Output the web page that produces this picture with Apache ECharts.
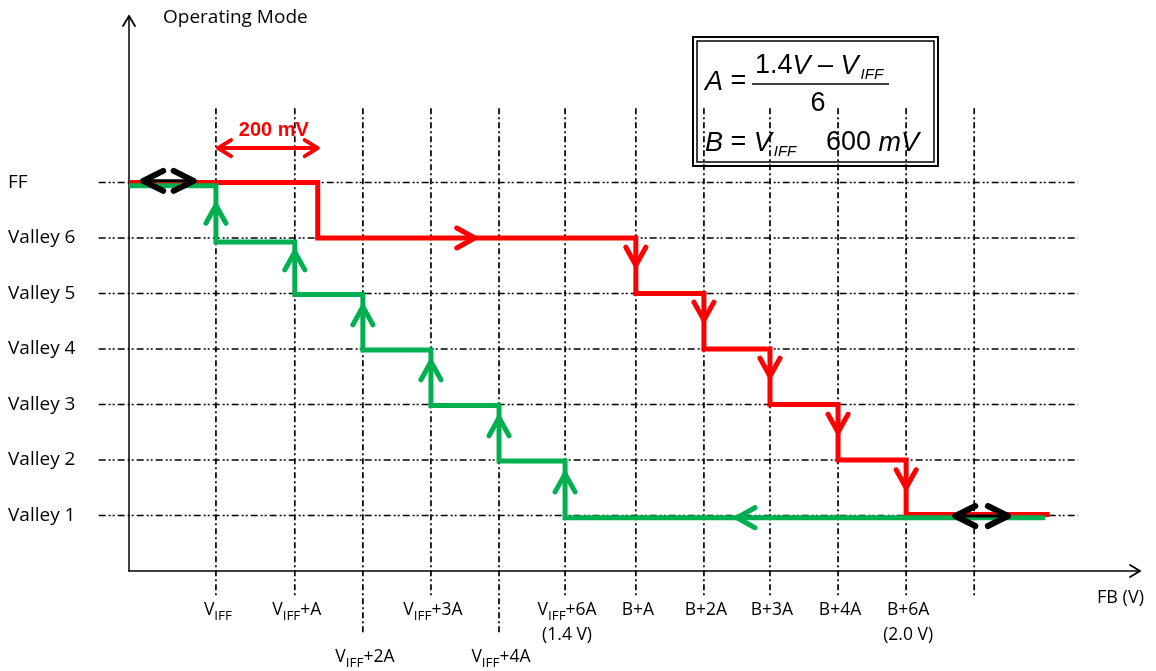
<!DOCTYPE html>
<html>
<head>
<meta charset="utf-8">
<title>Operating Mode vs FB</title>
<script src="https://cdn.jsdelivr.net/npm/echarts@6/dist/echarts.min.js"></script>
<style>
  html, body { margin: 0; padding: 0; background: #fff; }
  #chart { width: 1156px; height: 671px; }
</style>
</head>
<body>
<div id="chart"></div>
<script>
// y levels, 1 = Valley 1 ... 7 = FF
const modeNames = ['Valley 1', 'Valley 2', 'Valley 3', 'Valley 4', 'Valley 5', 'Valley 6', 'FF']

// FB positions of the dash-dot verticals (axis units, one step ~ A)
const fbTicks = [1.29, 2.46, 3.47, 4.48, 5.49, 6.47, 7.52, 8.53, 9.51, 10.52, 11.53, 12.54]
const fbLabels = ['{m|V}{s|IFF}', '{m|V}{s|IFF}{m|+A}', '{m|V}{s|IFF}{m|+2A}', '{m|V}{s|IFF}{m|+3A}',
  '{m|V}{s|IFF}{m|+4A}', '{m|V}{s|IFF}{m|+6A}\n{m|(1.4 V)}', '{m|B+A}', '{m|B+2A}', '{m|B+3A}',
  '{m|B+4A}', '{m|B+6A}\n{m|(2.0 V)}', '']
const fbLabelRow = [0, 0, 1, 0, 1, 0, 0, 0, 0, 0, 0, 0]
const fbTickTop = 8.34
const fbTickBottom = [-0.49, -0.49, -1.15, -0.49, -1.15, -0.49, -0.49, -0.49, -0.49, -0.49, -0.49, -0.49]
const levelLineFrom = -0.45
const levelLineTo = 14.08

// step paths [FB, mode]
const redPath = [[0, 7], [2.8, 7], [2.8, 6], [7.52, 6], [7.52, 5], [8.53, 5], [8.53, 4],
  [9.51, 4], [9.51, 3], [10.52, 3], [10.52, 2], [11.53, 2], [11.53, 1.02], [13.66, 1.02]]
const greenPath = [[0, 6.94], [1.29, 6.94], [1.29, 5.93], [2.46, 5.93], [2.46, 4.98], [3.47, 4.98],
  [3.47, 3.98], [4.48, 3.98], [4.48, 2.98], [5.49, 2.98], [5.49, 1.98], [6.47, 1.98],
  [6.47, 0.96], [13.59, 0.96]]

// arrow tips
const greenUp = [[1.29, 6.59], [2.46, 5.75], [3.47, 4.76], [4.48, 3.77], [5.49, 2.76], [6.47, 1.75]]
const greenLeft = [[9.02, 0.96]]
const redDown = [[7.52, 5.51], [8.53, 4.52], [9.51, 3.51], [10.52, 2.50], [11.53, 1.50]]
const redRight = [[5.13, 6]]
// double arrows [from, to, mode]
const hysteresis = [[0.21, 0.96, 7.03], [12.26, 13.04, 0.99]]
const stepSpan = [[1.32, 2.80, 7.62]]

const FONT = 'Open Sans'
const MATH = 'Liberation Sans'

function chevron (p, angle, len, half) {
  const a = angle * Math.PI / 180
  const dx = Math.cos(a)
  const dy = -Math.sin(a)
  const bx = p[0] - dx * len
  const by = p[1] - dy * len
  return [[bx - dy * half, by + dx * half], p, [bx + dy * half, by - dx * half]]
}

function arrowSeries (data, angle, color, len, half, width, z) {
  return {
    type: 'custom',
    data: data,
    silent: true,
    z: z,
    renderItem: function (params, api) {
      const p = api.coord([api.value(0), api.value(1)])
      return {
        type: 'polyline',
        shape: { points: chevron(p, angle, len, half) },
        style: { stroke: color, lineWidth: width, fill: null, lineCap: 'round', lineJoin: 'round' }
      }
    }
  }
}

function doubleArrowSeries (data, color, shaftWidth, headWidth, len, half, z, text) {
  return {
    type: 'custom',
    data: data,
    silent: true,
    z: z,
    encode: { x: [0, 1], y: 2 },
    renderItem: function (params, api) {
      const p1 = api.coord([api.value(0), api.value(2)])
      const p2 = api.coord([api.value(1), api.value(2)])
      const st = { stroke: color, lineWidth: headWidth, fill: null, lineCap: 'round', lineJoin: 'round' }
      const children = [
        { type: 'line', shape: { x1: p1[0], y1: p1[1], x2: p2[0], y2: p2[1] },
          style: { stroke: color, lineWidth: shaftWidth } },
        { type: 'polyline', shape: { points: chevron(p1, 180, len, half) }, style: st },
        { type: 'polyline', shape: { points: chevron(p2, 0, len, half) }, style: st }
      ]
      if (text) {
        children.push({
          type: 'text', x: (p1[0] + p2[0]) / 2 + 6, y: p1[1] - 18,
          style: { text: text, fill: color, fontFamily: MATH, fontWeight: 'bold',
            fontSize: 20, align: 'center', verticalAlign: 'middle' }
        })
      }
      return { type: 'group', children: children }
    }
  }
}

const mathRich = {
  n: { fontFamily: MATH, fontSize: 27, lineHeight: 32 },
  i: { fontFamily: MATH, fontStyle: 'italic', fontSize: 27, lineHeight: 32 },
  s: { fontFamily: MATH, fontStyle: 'italic', fontSize: 15, lineHeight: 16, verticalAlign: 'bottom', padding: [0, 0, 0, 2] }
}

const labelRich = {
  m: { fontFamily: FONT, fontSize: 17.5, lineHeight: 25, color: '#000' },
  s: { fontFamily: FONT, fontSize: 13.5, lineHeight: 12, verticalAlign: 'bottom', color: '#000' }
}

const chart = echarts.init(document.getElementById('chart'))

chart.setOption({
  animation: false,
  backgroundColor: '#fff',
  grid: { left: 129, right: 16, top: 16, bottom: 100 },
  xAxis: {
    type: 'value', min: 0, max: 15,
    axisLine: { show: true, lineStyle: { color: '#000', width: 1.5 } },
    axisTick: { show: false },
    axisLabel: { show: false },
    splitLine: { show: false }
  },
  yAxis: {
    type: 'value', min: 0, max: 10, interval: 1,
    axisLine: { show: true, lineStyle: { color: '#000', width: 1.5 } },
    axisTick: { show: false },
    splitLine: { show: false },
    axisLabel: {
      align: 'left', margin: 121, color: '#000', fontFamily: FONT, fontSize: 19,
      formatter: v => (v >= 1 && v <= 7) ? modeNames[v - 1] : ''
    }
  },
  graphic: [
    { type: 'text', left: 163, top: 8, style: { text: 'Operating Mode', fill: '#000', fontFamily: FONT, fontSize: 19 } },
    { type: 'text', left: 1097, top: 589, style: { text: 'FB (V)', fill: '#000', fontFamily: FONT, fontSize: 18 } },
    {
      type: 'group', z: 100,
      children: [
        { type: 'rect', shape: { x: 693, y: 37, width: 245, height: 129 }, style: { fill: '#fff', stroke: '#000', lineWidth: 2 } },
        { type: 'rect', shape: { x: 697, y: 41, width: 237, height: 121 }, style: { fill: null, stroke: '#000', lineWidth: 1.5 } },
        { type: 'text', x: 705, y: 82, style: { text: '{i|A}{n| =}', verticalAlign: 'middle', fill: '#000', rich: mathRich } },
        { type: 'text', x: 755, y: 66, style: { text: '{n|1.4}{i|V}{n| – }{i|V}{s|IFF}', verticalAlign: 'middle', fill: '#000', rich: mathRich } },
        { type: 'line', shape: { x1: 752, y1: 84, x2: 889, y2: 84 }, style: { stroke: '#000', lineWidth: 1.5 } },
        { type: 'text', x: 818, y: 104, style: { text: '6', fill: '#000', fontFamily: MATH, fontSize: 27, align: 'center', verticalAlign: 'middle' } },
        { type: 'text', x: 705, y: 143, style: { text: '{i|B}{n| = }{i|V}{s|IFF}', verticalAlign: 'middle', fill: '#000', rich: mathRich } },
        { type: 'text', x: 826, y: 143, style: { text: '{n|600}{i| mV}', verticalAlign: 'middle', fill: '#000', rich: mathRich } }
      ]
    }
  ],
  series: [
    // horizontal dash-dot-dot level lines
    {
      type: 'custom', silent: true, z: 1,
      data: modeNames.map((n, i) => [i + 1, levelLineFrom, levelLineTo]),
      encode: { y: 0, x: [1, 2] },
      renderItem: function (params, api) {
        const a = api.coord([api.value(1), api.value(0)])
        const b = api.coord([api.value(2), api.value(0)])
        return { type: 'line', shape: { x1: a[0], y1: a[1], x2: b[0], y2: b[1] },
          style: { stroke: '#000', lineWidth: 1.7, lineDash: [7, 3, 2, 2, 2, 3] } }
      }
    },
    // vertical dash-dot FB lines and their labels
    {
      type: 'custom', silent: true, z: 1,
      data: fbTicks.map((x, i) => [x, fbTickTop, fbTickBottom[i]]),
      encode: { x: 0, y: [1, 2] },
      renderItem: function (params, api) {
        const i = params.dataIndex
        const a = api.coord([api.value(0), api.value(1)])
        const b = api.coord([api.value(0), api.value(2)])
        const base = api.coord([api.value(0), 0])
        return {
          type: 'group',
          children: [
            { type: 'line', shape: { x1: a[0], y1: a[1], x2: b[0], y2: b[1] },
              style: { stroke: '#000', lineWidth: 1.7, lineDash: [6, 3, 2, 3] } },
            { type: 'text', x: base[0] + 2, y: base[1] + (fbLabelRow[i] ? 74 : 27),
              style: {
                text: fbLabels[i], fill: '#000', fontFamily: FONT, fontSize: 17,
                align: 'center', verticalAlign: 'top', rich: labelRich
              } }
          ]
        }
      }
    },
    {
      type: 'line', data: redPath, showSymbol: false, silent: true, z: 3,
      lineStyle: { color: '#ff0000', width: 5, cap: 'butt', join: 'miter' }
    },
    {
      type: 'line', data: greenPath, showSymbol: false, silent: true, z: 4,
      lineStyle: { color: '#00b050', width: 5, cap: 'butt', join: 'miter' }
    },
    arrowSeries(greenUp, 90, '#00b050', 18, 10, 5, 5),
    arrowSeries(greenLeft, 180, '#00b050', 18, 10, 5, 5),
    arrowSeries(redDown, 270, '#ff0000', 18, 10, 5, 5),
    arrowSeries(redRight, 0, '#ff0000', 18, 10, 5, 5),
    // axis arrow heads
    arrowSeries([[0, 10]], 90, '#000', 10, 6, 1.8, 6),
    arrowSeries([[15, 0]], 0, '#000', 10, 6, 1.8, 6),
    doubleArrowSeries(hysteresis, '#000', 3, 6, 20, 10, 7),
    doubleArrowSeries(stepSpan, '#ff0000', 4, 4, 13, 8, 7, '200 mV')
  ]
})
</script>
</body>
</html>
